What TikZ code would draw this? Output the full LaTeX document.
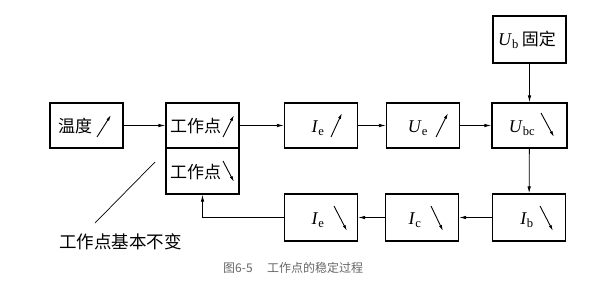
\documentclass[tikz,border=0pt]{standalone}
\usepackage{fontspec}
\setmainfont{Liberation Serif}
\newfontfamily\cjk{Noto Sans CJK SC}
\usetikzlibrary{arrows.meta}
\begin{document}
\begin{tikzpicture}[x=1pt,y=-1pt,
  box/.style={draw,line width=1.3pt,inner sep=0pt,minimum width=73pt,minimum height=45pt},
  conn/.style={line width=0.8pt,-{Latex[length=7pt,width=3.5pt]}},
  tiny/.style={line width=0.9pt,-{Latex[length=6pt,width=3pt]}},
  lab/.style={inner sep=0pt,font=\fontsize{18}{18}\selectfont},
  clab/.style={inner sep=0pt,font=\cjk\fontsize{17}{17}\selectfont}]
\useasboundingbox (0,0) rectangle (603,282);
% boxes
\node[box] (wd) at (86.5,125.5) {};
\node[box] (wp1) at (202.5,125.5) {};
\node[box,minimum height=46pt] (wp2) at (202.5,171) {};
\node[box] (ie1) at (321,125.5) {};
\node[box] (ue) at (423,125.5) {};
\node[box,minimum width=75pt] (ubc) at (529.5,125.5) {};
\node[box,minimum height=47pt] (ub) at (529.5,39.5) {};
\node[box,minimum height=47pt] (ib) at (529,217.5) {};
\node[box,minimum height=47pt] (ic) at (422,217.5) {};
\node[box,minimum height=47pt] (ie2) at (321,217.5) {};
% labels
\node[clab,anchor=west] (wdt) at (58,126) {温度};
\node[clab,anchor=west] (wp1t) at (170,126) {工作点};
\node[clab,anchor=west] (wp2t) at (170,172) {工作点};
\node[lab] (ie1t) at (318,128) {\textit{I}\textsubscript{e}};
\node[lab] (uet) at (418,128) {\textit{U}\textsubscript{e}};
\node[lab] (ubct) at (522,128) {\textit{U}\textsubscript{bc}};
\node[lab,anchor=west] (ubt) at (498,40) {\textit{U}\textsubscript{b}\,{\cjk\fontsize{17}{17}\selectfont 固定}};
\node[lab] (ibt) at (527,220) {\textit{I}\textsubscript{b}};
\node[lab] (ict) at (415,220) {\textit{I}\textsubscript{c}};
\node[lab] (ie2t) at (318,220) {\textit{I}\textsubscript{e}};
% small trend arrows
\draw[tiny] (97,137) -- (111,115);
\draw[tiny] (223,137) -- (234,115);
\draw[tiny] (223,161) -- (234,182);
\draw[tiny] (331,137) -- (342,113);
\draw[tiny] (436,137) -- (448,113);
\draw[tiny] (541,113) -- (554,137);
\draw[tiny] (334,206) -- (347,231);
\draw[tiny] (431,206) -- (443,231);
\draw[tiny] (540,206) -- (553,231);
% connectors
\draw[conn] (wd) -- (wp1);
\draw[conn] (wp1) -- (ie1);
\draw[conn] (ie1) -- (ue);
\draw[conn] (ue) -- (ubc);
\draw[conn] (ub) -- (ubc);
\draw[conn] (ubc) -- (ib);
\draw[conn] (ib) -- (ic);
\draw[conn] (ic) -- (ie2);
\draw[conn] (ie2.west) -| (wp2.south);
% annotation
\node[clab,anchor=west,font=\cjk\fontsize{17.5}{17.5}\selectfont] (note) at (59,242) {工作点基本不变};
\coordinate (ntop) at (155,162);
\coordinate (nbot) at (95,223);
\draw[line width=0.7pt] (nbot) -- (ntop);
\node[inner sep=0pt,font=\fontsize{12}{12}\selectfont\cjk,text=black!60,anchor=west] (cap) at (223,268) {图6-5\hspace{1.2em}工作点的稳定过程};
\end{tikzpicture}
\end{document}
